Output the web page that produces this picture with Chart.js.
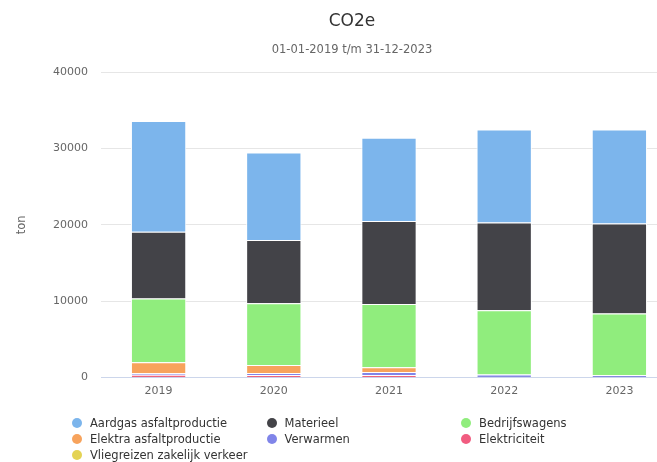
<!DOCTYPE html>
<html>
<head>
<meta charset="utf-8">
<script src="https://cdn.jsdelivr.net/npm/chart.js@4"></script>
<style>
    body { margin: 0; overflow: hidden; background: #fff; font-family: "DejaVu Sans", sans-serif; }
    #wrap { position: relative; width: 704px; height: 462px; }
    #legend { position: absolute; left: 72px; top: 415px; display: grid; grid-template-columns: 194.5px 194.5px 194.5px; }
    .item { display: flex; align-items: center; height: 16px; font-size: 11.5px; color: #333; white-space: nowrap; }
    .dot { width: 10px; height: 10px; border-radius: 50%; margin-right: 8px; flex: none; }
</style>
</head>
<body>
<div id="wrap">
    <canvas id="co2-chart" width="704" height="462"></canvas>
    <div id="legend"></div>
</div>
<script>
// Jaren en waarden (ton CO2e)
const years = ['2019', '2020', '2021', '2022', '2023'];
const aardgas = [14520, 11470, 10930, 12180, 12310];
const materieel = [8750, 8310, 10880, 11540, 11810];
const bedrijfswagens = [8380, 8110, 8310, 8420, 8090];
const elektra = [1450, 1050, 600, 0, 0];
const verwarmen = [200, 250, 400, 350, 280];
const elektriciteit = [300, 300, 300, 0, 0];
const vliegreizen = [20, 5, 5, 10, 10];
const yTicks = [0, 10000, 20000, 30000, 40000];

// volgorde zoals in de legenda (bovenste segment eerst)
const series = [
    { label: 'Aardgas asfaltproductie', data: aardgas, color: '#7cb5ec' },
    { label: 'Materieel', data: materieel, color: '#434348' },
    { label: 'Bedrijfswagens', data: bedrijfswagens, color: '#90ed7d' },
    { label: 'Elektra asfaltproductie', data: elektra, color: '#f7a35c' },
    { label: 'Verwarmen', data: verwarmen, color: '#8085e9' },
    { label: 'Elektriciteit', data: elektriciteit, color: '#f15c80' },
    { label: 'Vliegreizen zakelijk verkeer', data: vliegreizen, color: '#e4d354' }
];

const datasets = series.slice().reverse().map(s => ({
    label: s.label,
    data: s.data,
    backgroundColor: s.color,
    borderColor: '#ffffff',
    borderWidth: 1,
    categoryPercentage: 0.8,
    barPercentage: 0.6
}));

const ctx = document.getElementById('co2-chart').getContext('2d');
new Chart(ctx, {
    type: 'bar',
    data: { labels: years, datasets: datasets },
    options: {
        responsive: false,
        animation: false,
        devicePixelRatio: 1,
        layout: { padding: { left: 11, right: 11, top: 0, bottom: 57.5 } },
        plugins: {
            legend: { display: false },
            tooltip: { enabled: false },
            title: {
                display: true,
                text: 'CO2e',
                color: '#333333',
                font: { family: 'DejaVu Sans', size: 17, weight: 'normal' },
                padding: { top: 11, bottom: 4 }
            },
            subtitle: {
                display: true,
                text: '01-01-2019 t/m 31-12-2023',
                color: '#666666',
                font: { family: 'DejaVu Sans', size: 11.5 },
                padding: { top: 7.5, bottom: 15.7 }
            }
        },
        scales: {
            x: {
                stacked: true,
                grid: { display: false, drawTicks: false },
                border: { display: true, color: '#ccd6eb', width: 1 },
                ticks: { color: '#666666', padding: 7, font: { family: 'DejaVu Sans', size: 11 } }
            },
            y: {
                stacked: true,
                min: 0,
                max: 40000,
                afterBuildTicks: scale => { scale.ticks = yTicks.map(v => ({ value: v })); },
                afterFit: scale => { scale.width = 90; },
                border: { display: false },
                grid: {
                    drawTicks: false,
                    color: c => c.tick && c.tick.value === 0 ? '#ccd6eb' : '#e6e6e6'
                },
                ticks: {
                    color: '#666666',
                    padding: 13,
                    font: { family: 'DejaVu Sans', size: 11 },
                    callback: v => String(v)
                },
                title: {
                    display: true,
                    text: 'ton',
                    color: '#666666',
                    font: { family: 'DejaVu Sans', size: 11.5 },
                    padding: { top: 4, bottom: 4 }
                }
            },
            // lege as rechts, houdt ruimte vrij zodat de titel gecentreerd blijft
            yRight: {
                position: 'right',
                display: true,
                afterFit: scale => { scale.width = 16; },
                grid: { display: false },
                border: { display: false },
                ticks: { display: false }
            }
        }
    }
});

// HTML-legenda in drie kolommen
const legendEl = document.getElementById('legend');
series.forEach(s => {
    const item = document.createElement('div');
    item.className = 'item';
    item.innerHTML = `<span class="dot" style="background:${s.color}"></span><span>${s.label}</span>`;
    legendEl.appendChild(item);
});
</script>
</body>
</html>
